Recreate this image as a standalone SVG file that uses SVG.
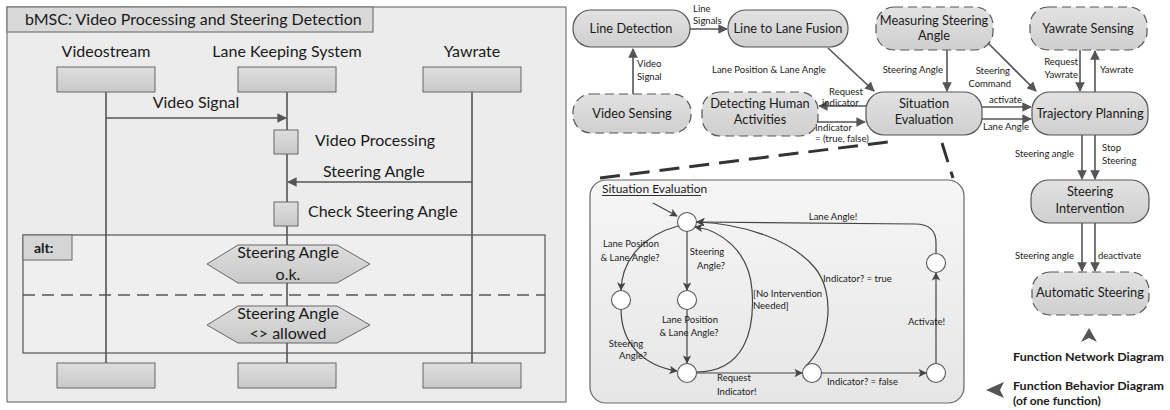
<svg xmlns="http://www.w3.org/2000/svg" width="1170" height="410" viewBox="0 0 1170 410">
<style>
text{font-family:Lato,"Liberation Sans",sans-serif;fill:#1a1a1a}
.t16{font-size:16px}
.nt{font-size:12.8px;text-anchor:middle}
.sm{font-size:9.5px}
.smm{font-size:9.5px;text-anchor:middle}
.sme{font-size:9.5px;text-anchor:end}
.lg{font-size:12px;font-weight:bold}
.box{fill:url(#gbox);stroke:#666;stroke-width:1}
.life{stroke:#555;stroke-width:1.6;fill:none}
.hex{fill:url(#gbox);stroke:#666;stroke-width:1}
.node{fill:url(#gnode);stroke:#555;stroke-width:1.2}
.dnode{fill:url(#gnode);stroke:#555;stroke-width:1.2;stroke-dasharray:9,5}
.arr{stroke:#555;stroke-width:1.6;fill:none;marker-end:url(#ah)}
.sarr{stroke:#444;stroke-width:1.2;fill:none;marker-end:url(#sh)}
.st{fill:#fff;stroke:#555;stroke-width:1.1}
</style>
<defs>
<linearGradient id="gbox" x1="0" y1="0" x2="0" y2="1"><stop offset="0" stop-color="#dedede"/><stop offset="1" stop-color="#c9c9c9"/></linearGradient>
<linearGradient id="gnode" x1="0" y1="0" x2="0" y2="1"><stop offset="0" stop-color="#e2e2e2"/><stop offset="1" stop-color="#cfcfcf"/></linearGradient>
<linearGradient id="gpanel" x1="0" y1="0" x2="0" y2="1"><stop offset="0" stop-color="#f6f6f6"/><stop offset="1" stop-color="#e6e6e6"/></linearGradient>
<marker id="ah" viewBox="0 0 10 10" refX="9" refY="5" markerWidth="6" markerHeight="6" orient="auto"><path d="M0,0 L10,5 L0,10 Z" fill="#555"/></marker>
<marker id="sh" viewBox="0 0 10 10" refX="9" refY="5" markerWidth="7" markerHeight="7" orient="auto"><path d="M0,0 L10,5 L0,10 L2.5,5 Z" fill="#444"/></marker>
</defs>

<!-- LEFT: bMSC -->
<g id="bmsc">
<rect x="7" y="7" width="559" height="395" fill="#ececec" stroke="#777" stroke-width="1.2"/>
<rect x="7" y="7" width="366" height="25" fill="#d9d9d9" stroke="#777" stroke-width="1.2"/>
<text x="25" y="25" class="t16">bMSC: Video Processing and Steering Detection</text>
</g>
<g id="alt">
<rect x="23" y="235" width="522" height="118" fill="#efefef" stroke="#555" stroke-width="1.2"/>
<rect x="23" y="235" width="49" height="25" fill="#d5d5d5" stroke="#666" stroke-width="1"/>
<text x="34" y="253" font-size="14" font-weight="bold">alt:</text>
<line x1="23" y1="295" x2="545" y2="295" stroke="#555" stroke-width="1.5" stroke-dasharray="12,7"/>
</g>
<g id="lifelines">
<line class="life" x1="106" y1="92" x2="106" y2="363"/>
<line class="life" x1="287" y1="92" x2="287" y2="363"/>
<line class="life" x1="472" y1="92" x2="472" y2="363"/>
</g>
<g id="videostream">
<text x="106" y="57" class="t16" text-anchor="middle">Videostream</text>
<rect class="box" x="57" y="67" width="98" height="25"/>
<rect class="box" x="57" y="363" width="98" height="25"/>
</g>
<g id="lks">
<text x="287" y="57" class="t16" text-anchor="middle">Lane Keeping System</text>
<rect class="box" x="238" y="67" width="98" height="25"/>
<rect class="box" x="238" y="363" width="98" height="25"/>
</g>
<g id="yawrate">
<text x="472" y="57" class="t16" text-anchor="middle">Yawrate</text>
<rect class="box" x="423" y="67" width="98" height="25"/>
<rect class="box" x="423" y="363" width="98" height="25"/>
</g>
<g id="msgs">
<line x1="106" y1="118" x2="286" y2="118" stroke="#555" stroke-width="1.6" marker-end="url(#ah)"/>
<text x="196" y="108" class="t16" text-anchor="middle">Video Signal</text>
<line x1="472" y1="182" x2="288" y2="182" stroke="#555" stroke-width="1.6" marker-end="url(#ah)"/>
<text x="323" y="177" class="t16">Steering Angle</text>
</g>
<g id="vproc">
<rect class="box" x="274" y="130" width="24" height="24"/>
<text x="315" y="146" class="t16">Video Processing</text>
</g>
<g id="check">
<rect class="box" x="274" y="202" width="24" height="24"/>
<text x="308" y="217" class="t16">Check Steering Angle</text>
</g>
<g id="hex1">
<polygon class="hex" points="207,264 238,245 337,245 370,264 337,283 238,283"/>
<text x="288" y="258" class="t16" text-anchor="middle">Steering Angle</text>
<text x="288" y="280" class="t16" text-anchor="middle">o.k.</text>
</g>
<g id="hex2">
<polygon class="hex" points="207,325 238,306 337,306 370,325 337,343 238,343"/>
<text x="288" y="319" class="t16" text-anchor="middle">Steering Angle</text>
<text x="288" y="339" class="t16" text-anchor="middle">&lt;&gt; allowed</text>
</g>

<!-- RIGHT: function network -->
<g id="n-linedet"><rect class="node" x="573" y="10" width="117" height="37" rx="18"/><text x="631" y="33" class="nt">Line Detection</text></g>
<g id="n-fusion"><rect class="node" x="728" y="10" width="120" height="37" rx="18"/><text x="788" y="33" class="nt">Line to Lane Fusion</text></g>
<g id="n-measuring"><rect class="dnode" x="876" y="7" width="117" height="43" rx="18"/><text x="934" y="25" class="nt">Measuring Steering</text><text x="934" y="40" class="nt">Angle</text></g>
<g id="n-yawsens"><rect class="dnode" x="1030" y="7" width="117" height="43" rx="18"/><text x="1088" y="33" class="nt">Yawrate Sensing</text></g>
<g id="n-videosens"><rect class="dnode" x="573" y="94" width="118" height="39" rx="18"/><text x="632" y="118" class="nt">Video Sensing</text></g>
<g id="n-human"><rect class="dnode" x="702" y="92" width="116" height="44" rx="18"/><text x="760" y="108" class="nt">Detecting Human</text><text x="760" y="124" class="nt">Activities</text></g>
<g id="n-situation"><rect class="node" x="866" y="92" width="116" height="43" rx="18"/><text x="924" y="108" class="nt">Situation</text><text x="924" y="124" class="nt">Evaluation</text></g>
<g id="n-trajectory"><rect class="node" x="1032" y="92" width="116" height="43" rx="18"/><text x="1090" y="118" class="nt">Trajectory Planning</text></g>
<g id="n-intervention"><rect class="node" x="1031" y="180" width="118" height="43" rx="18"/><text x="1090" y="196" class="nt">Steering</text><text x="1090" y="213" class="nt">Intervention</text></g>
<g id="n-autosteer"><rect class="dnode" x="1032" y="272" width="117" height="43" rx="18"/><text x="1090" y="297" class="nt">Automatic Steering</text></g>

<g id="connectors">
<path class="arr" d="M690,29 L727,29"/>
<text x="693" y="12" class="sm">Line</text><text x="693" y="24" class="sm">Signals</text>
<path class="arr" d="M633,94 L633,49"/>
<text x="637" y="67" class="sm">Video</text><text x="637" y="80" class="sm">Signal</text>
<text x="712" y="73" class="sm">Lane Position &amp; Lane Angle</text>
<path class="arr" d="M828,48 L874,91"/>
<path class="arr" d="M866,106 L819,106"/>
<text x="829" y="95" class="sm">Request</text><text x="822" y="106" class="sm">indicator</text>
<path class="arr" d="M818,122 L865,122"/>
<text x="815" y="131" class="sm">Indicator</text><text x="815" y="142" class="sm">= (true, false)</text>
<path class="arr" d="M947,50 L947,91"/>
<text x="943" y="73" class="sme">Steering Angle</text>
<path class="arr" d="M988,43 L1036,91"/>
<text x="1010" y="74" class="sme">Steering</text><text x="1011" y="87" class="sme">Command</text>
<path class="arr" d="M982,107 L1031,107"/>
<text x="989" y="103" class="sm">activate</text>
<path class="arr" d="M982,119 L1031,119"/>
<text x="983" y="130" class="sm">Lane Angle</text>
<path class="arr" d="M1080,50 L1080,91"/>
<text x="1078" y="65" class="sme">Request</text><text x="1078" y="78" class="sme">Yawrate</text>
<path class="arr" d="M1095,92 L1095,51"/>
<text x="1100" y="73" class="sm">Yawrate</text>
<path class="arr" d="M1082,135 L1082,179"/>
<path class="arr" d="M1095,135 L1095,179"/>
<text x="1074" y="157" class="sme">Steering angle</text>
<text x="1102" y="151" class="sm">Stop</text><text x="1102" y="164" class="sm">Steering</text>
<path class="arr" d="M1082,223 L1082,271"/>
<path class="arr" d="M1095,223 L1095,271"/>
<text x="1074" y="259" class="sme">Steering angle</text>
<text x="1098" y="259" class="sm">deactivate</text>
<!-- zoom lines -->
<path d="M600,178 L895,141" stroke="#333" stroke-width="3" stroke-dasharray="20,10" fill="none"/>
<path d="M942,143 L953,178" stroke="#333" stroke-width="3" stroke-dasharray="20,10" fill="none"/>
</g>

<!-- Function behavior: Situation Evaluation -->
<g id="behavior">
<rect x="590" y="180" width="374" height="223" rx="16" fill="url(#gpanel)" stroke="#666" stroke-width="1.2"/>
<text x="602" y="193" font-size="12">Situation Evaluation</text>
<line x1="602" y1="195.5" x2="701" y2="195.5" stroke="#1a1a1a" stroke-width="0.9"/>
</g>
<g id="transitions">
<path class="sarr" d="M653,203 L677,216"/>
<path class="sarr" d="M678,226 C645,235 622,258 621,290"/>
<path class="sarr" d="M687,231 L687,290"/>
<path class="sarr" d="M621,309 C621,345 645,366 677,371"/>
<path class="sarr" d="M687,309 L687,363"/>
<path class="sarr" d="M696,372 C745,372 755,330 752,290 C749,250 720,230 695,227"/>
<path class="sarr" d="M806,366 C832,340 835,292 815,268 C792,240 745,224 697,222"/>
<path class="sarr" d="M696,373 L802,373"/>
<path class="sarr" d="M821,373 L926,373"/>
<path class="sarr" d="M936,364 L936,273"/>
<path class="sarr" d="M936,253 L936,243 Q936,224 915,224 L697,222"/>
<text x="631" y="247" class="smm">Lane Position</text><text x="630" y="261" class="smm">&amp; Lane Angle?</text>
<text x="707" y="255" class="smm">Steering</text><text x="711" y="269" class="smm">Angle?</text>
<text x="626" y="347" class="smm">Steering</text><text x="633" y="359" class="smm">Angle?</text>
<text x="690" y="323" class="smm">Lane Position</text><text x="689" y="336" class="smm">&amp; Lane Angle?</text>
<text x="753" y="297" class="sm">[No Intervention</text><text x="753" y="309" class="sm">Needed]</text>
<text x="823" y="282" class="sm">Indicator? = true</text>
<text x="717" y="381" class="sm">Request</text><text x="717" y="395" class="sm">Indicator!</text>
<text x="827" y="385" class="sm">Indicator? = false</text>
<text x="908" y="325" class="sm">Activate!</text>
<text x="833" y="220" class="smm">Lane Angle!</text>
</g>
<g id="states">
<circle class="st" cx="687" cy="222" r="9.5"/>
<circle class="st" cx="621" cy="300" r="9.5"/>
<circle class="st" cx="687" cy="300" r="9.5"/>
<circle class="st" cx="687" cy="373" r="9.5"/>
<circle class="st" cx="812" cy="373" r="9.5"/>
<circle class="st" cx="936" cy="373" r="9.5"/>
<circle class="st" cx="936" cy="263" r="9.5"/>
</g>

<!-- Legend -->
<g id="legend">
<path d="M1089,328 L1097,342 L1089,338 L1081,342 Z" fill="#555"/>
<text x="1013" y="361" class="lg" textLength="151" lengthAdjust="spacingAndGlyphs">Function Network Diagram</text>
<path d="M986,390 L1004,382 L1000,390 L1004,398 Z" fill="#555"/>
<text x="1013" y="390" class="lg" textLength="151" lengthAdjust="spacingAndGlyphs">Function Behavior Diagram</text>
<text x="1013" y="405" class="lg">(of one function)</text>
</g>
</svg>
